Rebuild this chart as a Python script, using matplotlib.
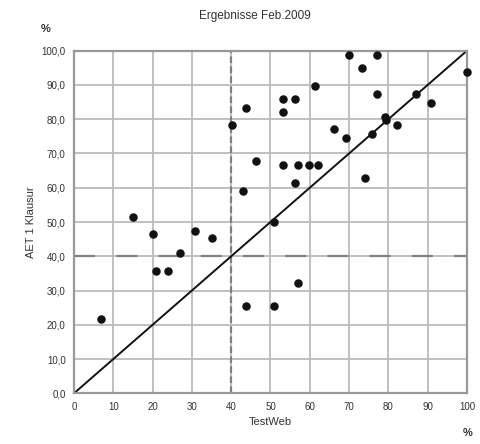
import matplotlib
matplotlib.use('Agg')
import matplotlib.pyplot as plt
from matplotlib.ticker import FuncFormatter

# TestWeb score (%) vs. AET 1 Klausur score (%)
testweb = [6.8, 15.1, 20.2, 21.0, 24.0, 27.1, 30.9, 35.2,
           40.2, 42.9, 43.9, 43.9, 46.2, 50.9, 50.9,
           53.1, 53.1, 53.1, 56.2, 56.2, 57.1, 57.1, 59.8, 62.2,
           61.3, 66.1, 69.2, 70.0, 73.2, 74.1, 75.9, 77.1, 77.1,
           79.1, 79.3, 82.2, 87.1, 90.9, 100.0]
klausur = [21.7, 51.4, 46.4, 35.8, 35.8, 40.9, 47.5, 45.2,
           78.2, 59.0, 83.2, 25.5, 67.8, 50.1, 25.5,
           85.9, 82.2, 66.7, 85.9, 61.3, 66.7, 32.1, 66.7, 66.7,
           89.8, 77.1, 74.6, 98.7, 95.0, 62.8, 75.6, 98.7, 87.4,
           80.7, 79.8, 78.3, 87.4, 84.6, 93.7]

ticks = list(range(0, 101, 10))
threshold = 40

plt.rcParams['font.family'] = ['Liberation Sans', 'DejaVu Sans']

fig = plt.figure(figsize=(4.8, 4.44), dpi=100)
ax = fig.add_axes([0.154, 0.114, 0.819, 0.772])

ax.set_xlim(0, 100)
ax.set_ylim(0, 100)
ax.set_xticks(ticks)
ax.set_yticks(ticks)
ax.yaxis.set_major_formatter(FuncFormatter(lambda v, p: f"{v:.1f}".replace('.', ',')))
ax.tick_params(length=0, labelsize=7, colors='#333333', pad=6)
ax.grid(True, color='#bbbbbb', linewidth=1.3)
ax.set_axisbelow(True)
for s in ax.spines.values():
    s.set_color('#999999')
    s.set_linewidth(1.6)

# pass thresholds
ax.axvline(threshold, color='#808080', linewidth=1.6, linestyle=(0, (3, 1.5)))
ax.axhline(threshold, color='#808080', linewidth=1.6, linestyle=(0, (9.5, 9.5)))

# diagonal x = y
ax.plot([0, 100], [0, 100], color='#111111', linewidth=1.4)

ax.scatter(testweb, klausur, s=26, color='#111111', zorder=5, clip_on=False)

ax.set_xlabel('TestWeb', fontsize=8, color='#333333', labelpad=4)
ax.set_ylabel('AET 1 Klausur', fontsize=8, color='#333333', labelpad=4)
fig.text(0.53, 0.965, 'Ergebnisse Feb.2009', ha='center', va='center', fontsize=8.5, color='#333333')
fig.text(0.095, 0.935, '%', ha='center', va='center', fontsize=8, color='#333333', fontweight='bold')
fig.text(0.975, 0.025, '%', ha='center', va='center', fontsize=8, color='#333333', fontweight='bold')

fig.savefig('out.png', dpi=100)
